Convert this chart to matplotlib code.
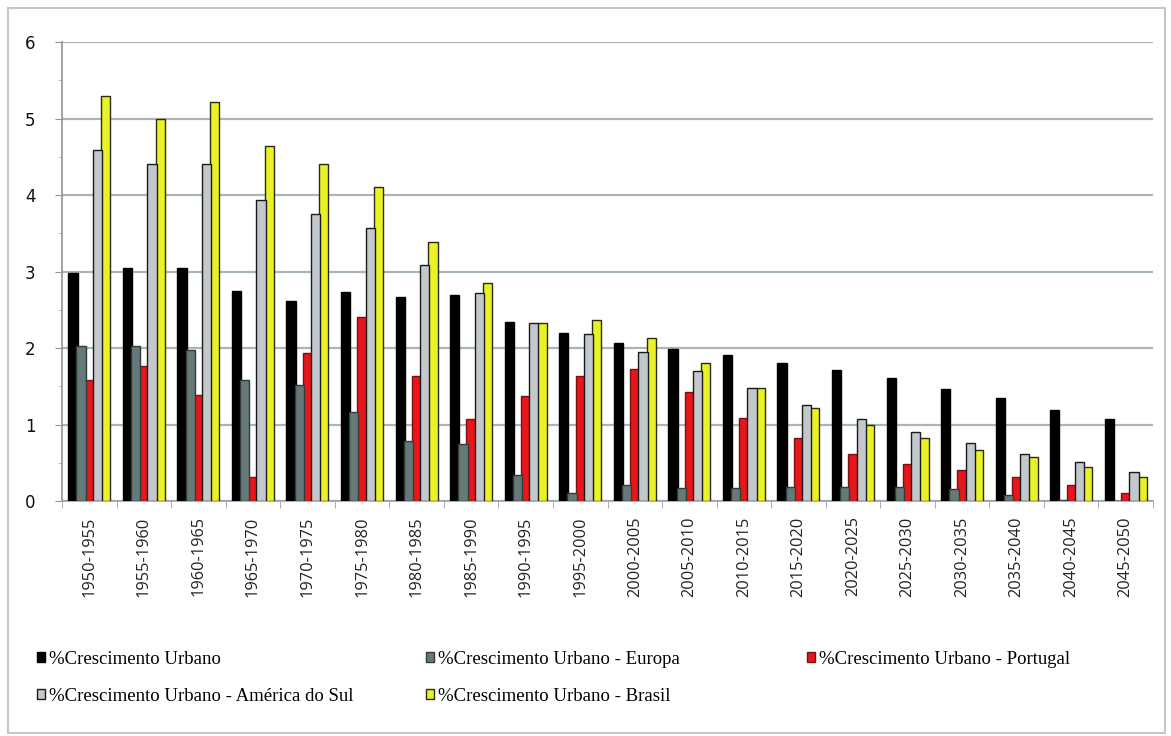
import matplotlib
matplotlib.use("Agg")
import matplotlib.pyplot as plt
from matplotlib.patches import Rectangle, Patch
from matplotlib.ticker import MultipleLocator, FixedLocator
import numpy as np

# Five-year periods
periods = ["1950-1955", "1955-1960", "1960-1965", "1965-1970", "1970-1975",
           "1975-1980", "1980-1985", "1985-1990", "1990-1995", "1995-2000",
           "2000-2005", "2005-2010", "2010-2015", "2015-2020", "2020-2025",
           "2025-2030", "2030-2035", "2035-2040", "2040-2045", "2045-2050"]

# Urban growth rates (% per year)
mundo = [2.98, 3.05, 3.05, 2.75, 2.62, 2.73, 2.67, 2.69, 2.34, 2.20,
         2.07, 1.99, 1.91, 1.81, 1.71, 1.61, 1.46, 1.34, 1.19, 1.07]
europa = [2.03, 2.03, 1.98, 1.58, 1.52, 1.16, 0.78, 0.74, 0.34, 0.11,
          0.21, 0.17, 0.17, 0.18, 0.18, 0.18, 0.16, 0.08, 0.01, -0.01]
portugal = [1.58, 1.76, 1.38, 0.32, 1.94, 2.40, 1.64, 1.07, 1.37, 1.64,
            1.72, 1.42, 1.08, 0.83, 0.62, 0.49, 0.41, 0.31, 0.21, 0.11]
america_sul = [4.59, 4.41, 4.41, 3.93, 3.75, 3.57, 3.09, 2.72, 2.33, 2.18,
               1.95, 1.70, 1.48, 1.25, 1.07, 0.90, 0.76, 0.61, 0.51, 0.38]
brasil = [5.30, 4.99, 5.22, 4.64, 4.41, 4.11, 3.38, 2.85, 2.33, 2.36,
          2.13, 1.80, 1.48, 1.21, 0.99, 0.83, 0.67, 0.58, 0.45, 0.31]

series_labels = ["%Crescimento Urbano",
                 "%Crescimento Urbano - Europa",
                 "%Crescimento Urbano - Portugal",
                 "%Crescimento Urbano - América do Sul",
                 "%Crescimento Urbano - Brasil"]
series_values = [mundo, europa, portugal, america_sul, brasil]
colors = ["#000000", "#667878", "#e8161a", "#c3c8cc", "#e9f227"]
edges = ["#000000", "#303c3c", "#7a1010", "#1a1a1a", "#2a2a10"]

fig = plt.figure(figsize=(11.71, 7.36), dpi=100)
fig.patch.set_facecolor("white")

# outer frame
fig.patches.append(Rectangle((8 / 1171, 1 - 733 / 736), (1165 - 8) / 1171, (733 - 8) / 736,
                             transform=fig.transFigure, fill=False,
                             edgecolor="#c4c8c8", linewidth=1.5))

ax = fig.add_axes([62 / 1171, 1 - 501 / 736, (1153 - 62) / 1171, (501 - 42) / 736])

x = np.arange(len(periods))
step = 0.15
width = 0.17
for k, (vals, c, ec) in enumerate(zip(series_values, colors, edges)):
    ax.bar(x + (k - 2) * step, vals, width=width, color=c, edgecolor=ec,
           linewidth=1.0, zorder=3 + (k % 2) * 0.1)

ax.set_xlim(-0.5, len(periods) - 0.5)
ax.set_ylim(0, 6)
ax.yaxis.set_major_locator(MultipleLocator(1))
ax.yaxis.set_minor_locator(MultipleLocator(0.5))
ax.grid(axis="y", which="major", color="#a9b6b6", linewidth=1.6, zorder=0)

for side in ("top", "right"):
    ax.spines[side].set_visible(False)
ax.spines["left"].set_color("#8e9494")
ax.spines["left"].set_linewidth(1.2)
ax.spines["bottom"].set_color("#9aa0b4")
ax.spines["bottom"].set_linewidth(1.2)

ax.tick_params(axis="y", which="major", length=5, color="#8e9494", pad=14,
               labelsize=12, labelcolor="#111111")
ax.tick_params(axis="y", which="minor", length=3, color="#b0b4b4")

ax.set_xticks(x)
ax.set_xticklabels(periods, rotation=90, fontsize=11.8, family="Open Sans",
                   color="#222222")
ax.xaxis.set_minor_locator(FixedLocator(np.arange(-0.5, len(periods), 1.0)))
ax.tick_params(axis="x", which="major", length=0, pad=11)
ax.tick_params(axis="x", which="minor", length=5, color="#9aa0b4")

# legend, laid out in three columns
handles = [Patch(facecolor=c, edgecolor=ec, linewidth=1.0) for c, ec in zip(colors, edges)]
columns = [([0, 3], 37), ([1, 4], 426), ([2], 807)]
for idx, xpx in columns:
    fig.legend([handles[i] for i in idx], [series_labels[i] for i in idx],
               loc="upper left", bbox_to_anchor=(xpx / 1171, 1 - 651 / 736),
               frameon=False, prop={"family": "Liberation Serif", "size": 13.5},
               handlelength=0.45, handleheight=0.45, handletextpad=0.2,
               labelspacing=1.05, borderpad=0, borderaxespad=0)

fig.savefig("out.png", dpi=100, facecolor="white")
